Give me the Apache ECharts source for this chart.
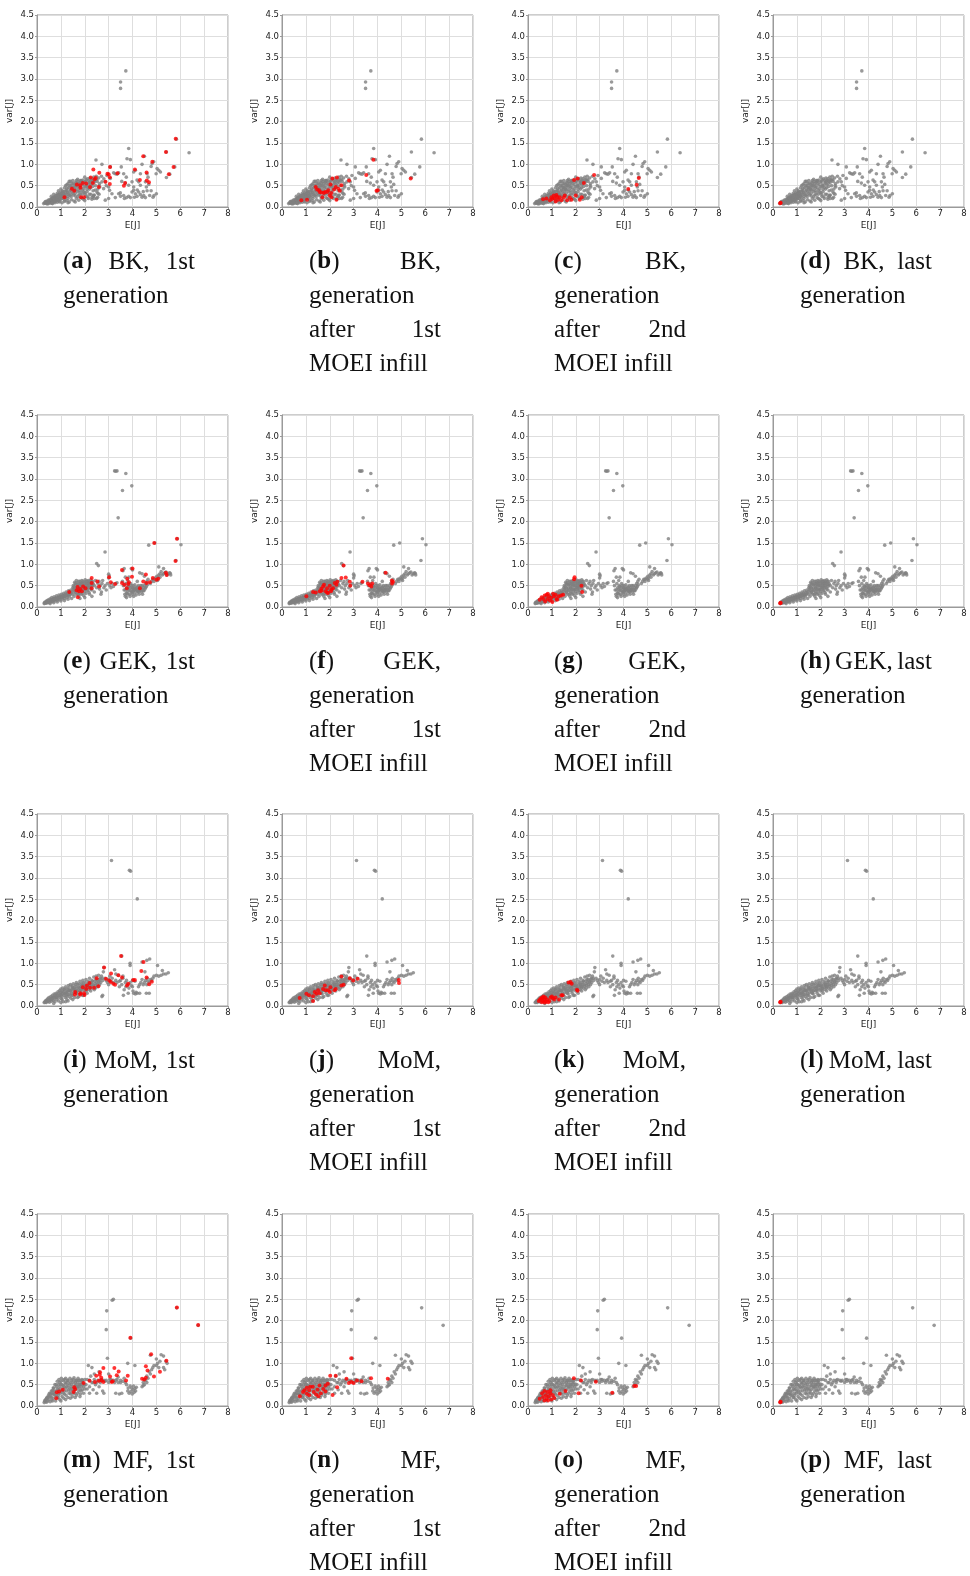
<!DOCTYPE html>
<html><head><meta charset="utf-8">
<script src="https://cdn.jsdelivr.net/npm/echarts@6/dist/echarts.min.js"></script>
<style>html,body{margin:0;padding:0;background:#fff}#c{width:970px;height:1576px}</style>
</head><body><div id="c"></div>
<script>
// ---------- tick labels ----------
const xTicks = [0,1,2,3,4,5,6,7,8];
const yTicks = [0,0.5,1,1.5,2,2.5,3,3.5,4,4.5];
const methods = ['BK','GEK','MoM','MF'];
const letters = [['a','b','c','d'],['e','f','g','h'],['i','j','k','l'],['m','n','o','p']];

// ---------- all evaluated points (grey), one set per method ----------
const greyBK = [[0.28,0.08],[0.32,0.1],[0.35,0.09],[0.38,0.12],[0.4,0.08],[0.42,0.14],[0.45,0.1],[0.48,0.16],[0.5,0.09],[0.52,0.12],[0.55,0.18],[0.58,0.1],[0.6,0.14],[0.62,0.2],[0.65,0.08],[0.68,0.16],[0.7,0.12],[0.72,0.24],[0.75,0.1],[0.78,0.19],[0.8,0.14],[0.82,0.27],[0.85,0.11],[0.88,0.22],[0.9,0.16],[0.92,0.3],[0.95,0.12],[0.98,0.25],[1.0,0.18],[1.02,0.32],[1.05,0.1],[1.08,0.28],[1.1,0.2],[1.12,0.36],[1.15,0.13],[1.18,0.3],[1.2,0.22],[1.22,0.4],[1.25,0.15],[1.28,0.34],[1.3,0.25],[1.32,0.45],[1.35,0.12],[1.38,0.38],[1.4,0.28],[1.42,0.5],[1.45,0.17],[1.48,0.42],[1.5,0.32],[1.52,0.55],[1.55,0.14],[1.58,0.46],[1.6,0.26],[1.62,0.58],[1.65,0.2],[1.68,0.5],[1.7,0.36],[1.72,0.6],[1.75,0.16],[1.78,0.44],[1.8,0.3],[1.82,0.62],[1.85,0.22],[1.88,0.55],[1.9,0.4],[1.92,0.63],[1.95,0.18],[1.98,0.48],[2.0,0.34],[2.02,0.6],[2.05,0.25],[2.08,0.52],[2.1,0.42],[2.12,0.66],[2.15,0.2],[2.18,0.58],[2.2,0.3],[2.22,0.68],[2.25,0.45],[2.28,0.62],[2.3,0.22],[2.32,0.55],[2.35,0.38],[2.38,0.7],[2.4,0.28],[2.42,0.64],[2.45,0.5],[2.48,0.72],[2.5,0.2],[2.52,0.6],[2.55,0.42],[2.58,0.68],[2.6,0.3],[2.62,0.55],[0.6,0.25],[0.7,0.3],[0.9,0.38],[1.0,0.42],[1.1,0.28],[1.2,0.5],[1.3,0.55],[1.4,0.6],[1.5,0.62],[1.6,0.4],[1.7,0.65],[1.8,0.5],[1.9,0.3],[2.0,0.7],[1.15,0.45],[1.25,0.52],[1.35,0.6],[1.45,0.35],[1.55,0.38],[1.65,0.62],[1.75,0.55],[1.85,0.45],[2.1,0.5],[2.2,0.55],[1.05,0.35],[0.95,0.3],[0.85,0.32],[0.75,0.22],[0.65,0.18],[0.55,0.13],[0.45,0.07],[1.3,0.1],[1.6,0.12],[2.0,0.15],[2.3,0.18],[2.4,0.2],[0.35,0.13],[0.42,0.1],[0.5,0.13],[0.55,0.1],[0.58,0.16],[0.63,0.12],[0.66,0.22],[0.7,0.19],[0.73,0.15],[0.77,0.26],[0.8,0.2],[0.83,0.17],[0.87,0.28],[0.9,0.22],[0.93,0.14],[0.96,0.33],[1.0,0.26],[1.03,0.2],[1.06,0.38],[1.1,0.32],[1.13,0.24],[1.16,0.16],[1.2,0.36],[1.23,0.29],[1.26,0.44],[1.3,0.2],[1.33,0.32],[1.36,0.5],[1.4,0.4],[1.43,0.24],[1.46,0.55],[1.5,0.46],[1.53,0.28],[1.56,0.52],[1.6,0.32],[1.63,0.5],[1.66,0.42],[1.7,0.24],[1.73,0.48],[1.76,0.38],[1.8,0.58],[1.83,0.35],[1.86,0.6],[1.9,0.2],[1.93,0.52],[1.96,0.42],[2.0,0.58],[2.03,0.3],[2.06,0.64],[2.1,0.36],[2.13,0.24],[2.16,0.62],[2.2,0.42],[2.23,0.6],[2.26,0.3],[2.3,0.66],[2.33,0.48],[2.36,0.25],[2.4,0.58],[2.44,0.4],[2.5,0.64],[2.55,0.32],[2.6,0.5],[1.25,0.38],[1.45,0.46],[1.15,0.25],[0.95,0.2],[1.35,0.28],[1.55,0.42],[1.75,0.28],[1.95,0.35],[2.15,0.46],[2.35,0.6],[1.65,0.55],[1.85,0.62],[2.05,0.48],[2.25,0.52],[1.05,0.24],[0.85,0.18],[0.75,0.14],[0.62,0.09],[0.48,0.11],[2.47,1.1],[2.72,1.0],[3.07,0.94],[3.53,0.94],[3.84,1.37],[3.77,1.13],[3.91,1.11],[4.5,1.19],[4.89,1.06],[4.82,1.02],[5.42,1.29],[5.84,1.59],[6.37,1.27],[5.77,0.94],[5.56,0.77],[5.42,0.69],[5.03,0.9],[5.1,0.86],[5.17,0.82],[4.99,0.78],[4.12,0.86],[4.05,0.82],[4.4,1.0],[4.78,0.95],[4.61,0.78],[4.33,0.78],[4.65,0.7],[4.54,0.59],[4.68,0.53],[4.58,0.47],[4.26,0.59],[4.33,0.51],[4.19,0.63],[3.98,0.59],[4.05,0.47],[3.84,0.51],[3.74,0.7],[3.7,0.56],[3.21,0.8],[3.28,0.78],[3.42,0.8],[3.63,0.78],[3.07,0.67],[2.93,0.74],[2.86,0.59],[3.0,0.47],[3.04,0.39],[3.14,0.31],[3.0,0.2],[3.28,0.22],[3.42,0.31],[3.49,0.33],[3.66,0.2],[3.84,0.25],[3.98,0.35],[4.05,0.39],[4.12,0.31],[4.19,0.25],[4.26,0.35],[4.33,0.29],[4.4,0.23],[4.47,0.27],[4.54,0.22],[4.61,0.38],[4.72,0.27],[4.78,0.38],[4.86,0.23],[5.0,0.31],[4.08,0.23],[3.91,0.22],[3.63,0.27],[2.72,0.59],[2.63,0.47],[2.79,0.43],[2.54,0.23],[2.86,0.16],[2.51,0.35],[2.37,0.27],[2.44,0.63],[2.7,0.72],[2.8,0.66],[2.9,0.5],[3.35,0.77],[3.55,0.6],[3.5,0.25],[3.75,0.22],[4.2,0.4],[4.45,0.36],[4.9,0.27],[3.5,2.93],[3.5,2.78],[3.72,3.19]];

const greyGEK = [[0.3,0.08],[0.32,0.11],[0.35,0.1],[0.38,0.13],[0.4,0.09],[0.42,0.15],[0.45,0.12],[0.48,0.17],[0.5,0.1],[0.52,0.14],[0.55,0.19],[0.58,0.12],[0.6,0.17],[0.62,0.22],[0.65,0.13],[0.68,0.19],[0.7,0.16],[0.72,0.24],[0.75,0.14],[0.78,0.21],[0.8,0.18],[0.82,0.26],[0.85,0.16],[0.88,0.23],[0.9,0.2],[0.92,0.28],[0.95,0.17],[0.98,0.25],[1.0,0.22],[1.02,0.3],[1.05,0.19],[1.08,0.27],[1.1,0.24],[1.12,0.32],[1.15,0.2],[1.18,0.3],[1.2,0.26],[1.22,0.35],[1.25,0.22],[1.28,0.32],[1.3,0.28],[1.32,0.38],[1.35,0.24],[1.38,0.34],[1.4,0.3],[1.42,0.4],[0.55,0.08],[0.7,0.1],[0.85,0.12],[1.0,0.14],[1.15,0.15],[1.3,0.18],[1.45,0.2],[1.5,0.45],[1.5,0.3],[1.52,0.5],[1.55,0.38],[1.58,0.58],[1.6,0.34],[1.62,0.45],[1.65,0.62],[1.68,0.4],[1.7,0.52],[1.72,0.3],[1.75,0.6],[1.78,0.44],[1.8,0.36],[1.82,0.55],[1.85,0.48],[1.88,0.62],[1.9,0.32],[1.92,0.5],[1.95,0.42],[1.98,0.58],[2.0,0.36],[2.02,0.64],[2.05,0.46],[2.08,0.54],[2.1,0.4],[2.12,0.6],[2.15,0.5],[2.18,0.34],[2.2,0.58],[2.22,0.45],[2.25,0.64],[2.28,0.52],[2.3,0.4],[2.32,0.6],[2.35,0.55],[1.55,0.25],[1.65,0.3],[1.75,0.25],[1.85,0.3],[1.95,0.27],[2.05,0.32],[2.2,0.3],[1.6,0.55],[1.7,0.45],[1.8,0.6],[1.9,0.55],[2.0,0.5],[2.1,0.55],[2.15,0.62],[1.8,0.2],[2.0,0.22],[0.33,0.09],[0.37,0.11],[0.43,0.12],[0.47,0.14],[0.53,0.12],[0.57,0.16],[0.63,0.15],[0.67,0.18],[0.73,0.17],[0.77,0.2],[0.83,0.19],[0.87,0.21],[0.93,0.22],[0.97,0.23],[1.03,0.24],[1.07,0.22],[1.13,0.27],[1.17,0.25],[1.23,0.29],[1.27,0.27],[1.33,0.3],[1.37,0.28],[1.43,0.33],[1.47,0.36],[1.52,0.42],[1.56,0.48],[1.6,0.42],[1.63,0.52],[1.67,0.56],[1.7,0.38],[1.73,0.54],[1.77,0.5],[1.8,0.44],[1.83,0.4],[1.87,0.56],[1.9,0.42],[1.93,0.6],[1.97,0.5],[2.0,0.42],[2.03,0.56],[2.07,0.6],[2.1,0.48],[2.13,0.38],[2.17,0.55],[2.2,0.5],[2.23,0.56],[2.27,0.6],[2.3,0.48],[2.33,0.52],[1.62,0.35],[1.78,0.32],[1.92,0.38],[2.08,0.44],[2.25,0.42],[1.85,0.52],[2.15,0.45],[2.4,0.5],[2.45,0.62],[2.5,0.45],[2.55,0.55],[2.6,0.6],[2.62,0.42],[2.65,0.5],[2.7,0.35],[2.72,0.55],[2.75,0.62],[2.8,0.45],[2.85,0.5],[2.9,0.4],[2.95,0.55],[3.0,0.68],[3.02,0.73],[3.0,0.77],[3.05,0.5],[3.1,0.45],[3.15,0.55],[3.2,0.48],[3.3,0.55],[3.35,0.57],[2.5,1.02],[2.57,0.97],[2.85,1.29],[2.68,0.3],[2.3,0.25],[2.4,0.35],[3.6,0.85],[3.65,0.9],[3.58,0.6],[3.62,0.5],[3.65,0.4],[3.68,0.3],[3.7,0.25],[3.72,0.55],[3.75,0.45],[3.78,0.35],[3.8,0.62],[3.82,0.5],[3.85,0.4],[3.88,0.3],[3.9,0.45],[3.92,0.55],[3.95,0.9],[4.0,0.87],[3.95,0.35],[3.98,0.42],[4.0,0.3],[4.02,0.5],[4.05,0.38],[4.08,0.45],[4.1,0.33],[4.12,0.42],[4.15,0.28],[4.18,0.4],[4.2,0.47],[4.22,0.35],[4.25,0.42],[4.28,0.3],[4.3,0.45],[4.32,0.38],[4.35,0.5],[4.38,0.35],[4.4,0.42],[4.42,0.3],[4.45,0.45],[4.48,0.38],[4.5,0.5],[4.52,0.42],[4.55,0.55],[4.58,0.48],[4.6,0.6],[4.62,0.52],[4.65,0.65],[4.3,0.8],[4.4,0.78],[4.5,0.72],[4.2,0.6],[3.7,0.7],[3.85,0.7],[3.75,0.22],[3.9,0.25],[4.05,0.25],[3.8,0.3],[3.7,0.4],[3.8,0.42],[3.9,0.38],[4.0,0.45],[4.05,0.42],[4.1,0.4],[4.15,0.45],[4.2,0.38],[4.25,0.35],[4.3,0.4],[4.35,0.42],[4.45,0.38],[3.85,0.48],[3.95,0.5],[4.1,0.52],[4.0,0.35],[3.75,0.32],[4.4,0.5],[4.55,0.45],[4.25,0.5],[4.75,0.55],[4.8,0.6],[4.85,0.65],[4.9,0.6],[4.95,0.68],[5.0,0.65],[5.02,0.72],[5.05,0.62],[5.1,0.75],[5.1,0.94],[5.15,0.7],[5.2,0.83],[5.25,0.75],[5.3,0.9],[5.35,0.8],[5.4,0.82],[5.45,0.75],[5.5,0.78],[5.55,0.8],[5.58,0.79],[5.6,0.75],[5.05,0.68],[5.15,0.78],[4.9,0.65],[5.3,0.78],[4.68,1.45],[4.93,1.5],[5.88,1.6],[6.03,1.46],[5.82,1.09],[3.25,3.19],[3.3,3.18],[3.35,3.19],[3.72,3.13],[3.58,2.73],[3.97,2.84],[3.4,2.09]];

const greyMoM = [[0.3,0.08],[0.33,0.1],[0.36,0.12],[0.38,0.08],[0.4,0.14],[0.43,0.1],[0.45,0.17],[0.48,0.12],[0.5,0.2],[0.52,0.09],[0.55,0.15],[0.58,0.22],[0.6,0.11],[0.62,0.18],[0.65,0.25],[0.68,0.13],[0.7,0.2],[0.72,0.28],[0.75,0.1],[0.78,0.22],[0.8,0.3],[0.82,0.15],[0.85,0.25],[0.88,0.33],[0.9,0.12],[0.92,0.2],[0.95,0.36],[0.98,0.28],[1.0,0.4],[1.02,0.17],[1.05,0.3],[1.08,0.42],[1.1,0.1],[1.12,0.25],[1.15,0.38],[1.18,0.2],[1.2,0.45],[1.22,0.32],[1.25,0.15],[1.28,0.4],[1.3,0.27],[1.32,0.48],[1.35,0.22],[1.38,0.36],[1.4,0.5],[1.42,0.18],[1.45,0.3],[1.48,0.44],[1.5,0.25],[1.52,0.52],[1.55,0.38],[1.58,0.2],[1.6,0.46],[1.62,0.32],[1.65,0.55],[1.68,0.28],[1.7,0.42],[1.72,0.5],[1.75,0.22],[1.78,0.36],[1.8,0.58],[1.82,0.45],[1.85,0.3],[1.88,0.52],[1.9,0.4],[1.92,0.6],[1.95,0.25],[1.98,0.48],[2.0,0.35],[2.02,0.55],[2.05,0.62],[2.08,0.42],[2.1,0.3],[2.12,0.5],[2.15,0.58],[2.18,0.38],[2.2,0.65],[2.22,0.46],[2.25,0.35],[2.28,0.55],[2.3,0.6],[2.32,0.42],[2.35,0.5],[2.38,0.68],[2.4,0.38],[2.42,0.58],[2.45,0.48],[2.48,0.7],[2.5,0.55],[2.52,0.62],[2.55,0.45],[2.58,0.72],[2.6,0.58],[2.62,0.5],[2.65,0.65],[2.7,0.7],[2.75,0.6],[2.8,0.9],[2.78,0.8],[2.72,0.22],[2.75,0.25],[1.3,0.12],[1.5,0.15],[0.7,0.06],[1.0,0.08],[1.2,0.1],[1.7,0.2],[1.9,0.25],[0.6,0.16],[0.8,0.2],[1.0,0.25],[1.2,0.3],[1.4,0.35],[1.6,0.38],[1.8,0.42],[2.0,0.45],[2.2,0.5],[1.1,0.33],[1.3,0.35],[1.5,0.4],[1.7,0.35],[1.9,0.48],[0.35,0.09],[0.42,0.12],[0.47,0.15],[0.53,0.13],[0.57,0.18],[0.63,0.15],[0.67,0.21],[0.73,0.18],[0.77,0.25],[0.83,0.2],[0.87,0.28],[0.93,0.24],[0.97,0.32],[1.03,0.22],[1.07,0.35],[1.13,0.28],[1.17,0.4],[1.23,0.26],[1.27,0.34],[1.33,0.42],[1.37,0.28],[1.43,0.38],[1.47,0.46],[1.53,0.32],[1.57,0.42],[1.63,0.5],[1.67,0.36],[1.73,0.44],[1.77,0.52],[1.83,0.38],[1.87,0.46],[1.93,0.54],[1.97,0.4],[2.03,0.48],[2.07,0.36],[2.13,0.44],[2.17,0.54],[2.23,0.42],[2.27,0.5],[2.33,0.58],[2.37,0.46],[2.43,0.52],[2.47,0.62],[2.53,0.5],[2.57,0.56],[2.63,0.62],[2.67,0.55],[2.73,0.65],[1.05,0.15],[1.25,0.22],[1.45,0.25],[1.65,0.3],[1.85,0.35],[2.05,0.4],[2.25,0.45],[2.45,0.42],[2.85,0.65],[2.9,0.6],[2.95,0.55],[3.0,0.62],[3.05,0.7],[3.1,0.58],[3.15,0.65],[3.2,0.55],[3.25,0.85],[3.3,0.6],[3.35,0.55],[3.4,0.72],[3.45,0.58],[3.5,0.6],[3.55,1.17],[3.55,0.5],[3.6,0.65],[3.62,0.25],[3.65,0.38],[3.7,0.55],[3.72,0.45],[3.75,0.6],[3.8,0.5],[3.82,0.3],[3.85,0.42],[3.9,1.0],[3.9,0.95],[3.9,0.55],[3.95,0.48],[4.0,0.6],[4.02,0.35],[4.05,0.3],[4.1,0.58],[4.12,0.28],[4.15,0.32],[4.2,0.3],[4.25,0.45],[4.3,0.3],[4.35,0.55],[4.4,1.03],[4.4,0.62],[4.45,0.5],[4.5,0.55],[4.52,0.8],[4.55,0.6],[4.58,0.3],[4.6,1.07],[4.6,0.5],[4.62,0.65],[4.65,0.58],[4.7,0.55],[4.72,1.1],[4.75,0.62],[4.8,0.6],[4.85,0.65],[4.9,0.7],[5.0,0.72],[5.05,0.95],[5.1,0.7],[5.2,0.72],[5.25,0.83],[5.3,0.75],[5.4,0.75],[5.5,0.78],[4.0,0.45],[3.6,0.7],[3.3,0.75],[3.0,0.5],[3.45,0.45],[4.3,0.5],[4.7,0.3],[3.12,3.41],[3.87,3.18],[3.92,3.16],[4.2,2.51]];

const greyMF = [[0.3,0.08],[0.32,0.12],[0.35,0.1],[0.38,0.15],[0.4,0.09],[0.42,0.2],[0.45,0.12],[0.48,0.25],[0.5,0.15],[0.52,0.3],[0.55,0.1],[0.58,0.22],[0.6,0.35],[0.62,0.14],[0.65,0.28],[0.68,0.42],[0.7,0.18],[0.72,0.35],[0.75,0.5],[0.78,0.12],[0.8,0.25],[0.82,0.45],[0.85,0.58],[0.88,0.2],[0.9,0.38],[0.92,0.62],[0.95,0.15],[0.98,0.3],[1.0,0.5],[1.02,0.65],[1.05,0.22],[1.08,0.42],[1.1,0.6],[1.12,0.18],[1.15,0.35],[1.18,0.55],[1.2,0.65],[1.22,0.25],[1.25,0.45],[1.28,0.6],[1.3,0.2],[1.32,0.38],[1.35,0.52],[1.38,0.65],[1.4,0.28],[1.42,0.45],[1.45,0.6],[1.48,0.22],[1.5,0.4],[1.52,0.55],[1.55,0.66],[1.58,0.3],[1.6,0.48],[1.62,0.6],[1.65,0.25],[1.68,0.42],[1.7,0.55],[1.72,0.65],[1.75,0.35],[1.78,0.5],[1.8,0.6],[1.82,0.28],[1.85,0.45],[1.88,0.62],[1.9,0.38],[1.92,0.55],[1.95,0.3],[1.98,0.5],[2.0,0.62],[0.6,0.2],[0.7,0.28],[0.8,0.35],[0.9,0.25],[1.0,0.35],[1.1,0.3],[1.2,0.42],[1.3,0.48],[1.4,0.55],[1.5,0.3],[1.6,0.38],[1.7,0.45],[1.8,0.4],[1.9,0.5],[0.9,0.5],[1.0,0.12],[1.2,0.15],[1.4,0.18],[1.6,0.2],[1.8,0.22],[1.15,0.62],[0.95,0.55],[0.35,0.14],[0.4,0.18],[0.45,0.2],[0.5,0.22],[0.55,0.28],[0.6,0.3],[0.65,0.36],[0.7,0.42],[0.75,0.3],[0.8,0.5],[0.85,0.4],[0.9,0.3],[0.95,0.45],[1.0,0.58],[1.05,0.35],[1.1,0.48],[1.15,0.28],[1.2,0.52],[1.25,0.35],[1.3,0.6],[1.35,0.42],[1.4,0.35],[1.45,0.5],[1.5,0.62],[1.55,0.45],[1.6,0.55],[1.65,0.5],[1.7,0.3],[1.75,0.6],[1.8,0.5],[1.85,0.35],[1.9,0.6],[1.95,0.45],[2.0,0.4],[0.85,0.2],[0.65,0.12],[1.05,0.5],[1.25,0.55],[1.45,0.4],[1.65,0.6],[1.85,0.55],[1.35,0.3],[1.55,0.35],[1.75,0.45],[1.15,0.45],[0.95,0.4],[0.75,0.25],[2.1,0.4],[2.2,0.6],[2.35,0.55],[2.5,0.55],[2.65,0.6],[2.8,0.6],[3.1,0.62],[3.3,0.6],[3.5,0.55],[2.05,0.5],[2.1,0.62],[2.15,0.95],[2.2,0.45],[2.25,0.7],[2.3,0.9],[2.3,0.55],[2.35,0.38],[2.4,0.62],[2.45,0.5],[2.5,0.3],[2.55,0.6],[2.6,0.45],[2.65,0.55],[2.7,0.62],[2.75,0.35],[2.8,0.3],[2.85,0.58],[2.9,0.6],[2.92,2.23],[2.9,1.79],[2.95,1.12],[3.0,0.55],[3.05,0.62],[3.1,0.58],[3.15,2.48],[3.2,2.5],[3.2,0.6],[3.25,0.55],[3.3,0.3],[3.35,0.62],[3.4,0.55],[3.45,0.28],[3.5,0.6],[3.55,0.3],[3.6,0.58],[3.65,0.65],[3.7,0.55],[3.75,0.5],[3.8,1.0],[3.8,0.35],[2.2,0.3],[2.4,0.75],[2.6,0.8],[3.0,0.75],[3.4,0.68],[3.82,0.42],[3.86,0.3],[3.9,0.47],[3.93,0.34],[3.96,0.42],[3.99,0.28],[4.02,0.38],[4.04,0.47],[4.07,0.32],[4.1,0.41],[4.13,0.35],[4.16,0.44],[3.92,1.59],[4.1,0.95],[4.4,0.45],[4.45,0.55],[4.5,0.5],[4.55,0.6],[4.6,0.7],[4.65,0.65],[4.7,0.8],[4.75,1.19],[4.75,0.75],[4.8,0.85],[4.85,0.9],[4.9,0.95],[5.0,1.1],[5.05,1.0],[5.1,0.9],[5.2,1.2],[5.3,1.17],[5.3,0.9],[5.35,0.85],[5.4,1.05],[5.45,1.0],[4.45,0.48],[4.6,0.55],[4.5,0.62],[5.0,0.95],[5.15,1.05],[5.85,2.3],[6.75,1.89]];

// ---------- current generation (red) ----------
const redA = [[5.81,1.6],[5.4,1.29],[4.45,1.19],[4.83,1.06],[5.72,0.94],[5.52,0.77],[4.1,0.88],[4.59,0.81],[4.31,0.63],[4.6,0.62],[4.69,0.58],[3.69,0.56],[3.64,0.5],[3.37,0.79],[3.06,0.94],[2.95,0.78],[3.0,0.77],[3.05,0.7],[3.05,0.54],[2.87,0.59],[2.61,0.8],[2.36,0.88],[2.46,0.68],[2.41,0.65],[2.25,0.69],[2.34,0.56],[2.59,0.47],[2.22,0.47],[2.06,0.55],[1.92,0.56],[1.81,0.51],[1.82,0.45],[1.67,0.53],[1.56,0.38],[1.46,0.43],[1.84,0.23],[1.97,0.23],[1.15,0.23]];
const redB = [[3.83,1.11],[3.53,0.75],[2.81,0.62],[4.01,0.39],[3.96,0.38],[5.39,0.67],[0.81,0.16],[1.05,0.17],[2.28,0.17],[1.69,0.23],[1.41,0.47],[1.47,0.41],[1.55,0.39],[1.65,0.34],[1.75,0.33],[1.8,0.35],[1.58,0.35],[1.94,0.39],[2.03,0.53],[2.07,0.33],[2.11,0.67],[2.18,0.41],[2.25,0.47],[2.3,0.69],[2.36,0.43],[2.42,0.38],[2.49,0.51],[2.0,0.27],[2.07,0.23],[1.9,0.35]];
const redC = [[2.77,0.75],[2.08,0.67],[1.93,0.63],[2.34,0.56],[4.2,0.42],[4.55,0.52],[4.64,0.68],[0.63,0.18],[0.77,0.2],[0.98,0.23],[1.08,0.27],[1.12,0.2],[1.19,0.28],[1.26,0.17],[1.33,0.23],[1.16,0.13],[1.4,0.16],[1.5,0.22],[1.64,0.16],[1.75,0.22],[1.82,0.17],[2.0,0.27],[2.17,0.17],[2.25,0.23],[0.92,0.16],[1.54,0.27],[1.22,0.24],[1.02,0.19]];
const redD = [[0.3,0.09],[0.32,0.1]];
const redE = [[5.86,1.6],[4.91,1.5],[5.8,1.08],[4.0,0.9],[3.56,0.87],[3.02,0.7],[2.29,0.68],[2.53,0.6],[3.09,0.58],[3.27,0.54],[3.56,0.56],[3.66,0.52],[3.78,0.66],[3.85,0.58],[3.82,0.54],[3.76,0.44],[3.98,0.71],[4.56,0.76],[4.45,0.6],[4.59,0.56],[4.73,0.58],[4.85,0.68],[5.0,0.64],[5.08,0.66],[5.4,0.8],[5.43,0.75],[4.31,0.44],[2.6,0.48],[2.29,0.56],[2.29,0.44],[2.03,0.44],[1.93,0.48],[1.81,0.42],[1.88,0.37],[1.7,0.47],[1.66,0.39],[1.75,0.37],[1.35,0.35],[1.71,0.23]];
const redF = [[2.58,0.97],[2.49,0.68],[2.67,0.69],[2.84,0.59],[2.86,0.5],[3.37,0.59],[3.6,0.55],[3.67,0.51],[3.78,0.55],[3.74,0.48],[4.34,0.8],[4.6,0.62],[4.65,0.59],[4.61,0.55],[1.02,0.25],[1.3,0.35],[1.41,0.34],[1.58,0.37],[1.65,0.43],[1.72,0.48],[1.76,0.52],[1.66,0.38],[1.83,0.37],[1.89,0.44],[1.93,0.33],[2.0,0.5],[2.07,0.41],[2.14,0.44],[2.21,0.56],[2.28,0.52],[2.32,0.59],[2.05,0.37],[1.89,0.34]];
const redG = [[1.95,0.7],[1.93,0.65],[2.24,0.5],[2.27,0.35],[0.49,0.17],[0.57,0.23],[0.7,0.27],[0.78,0.29],[0.72,0.13],[0.81,0.19],[0.88,0.25],[0.92,0.15],[0.97,0.21],[1.02,0.12],[1.08,0.25],[1.15,0.29],[1.2,0.19],[1.29,0.25],[1.39,0.27],[1.47,0.29],[1.22,0.17],[1.05,0.31],[0.83,0.31],[0.64,0.19]];
const redH = [[0.3,0.09],[0.32,0.1]];
const redI = [[3.52,1.17],[4.46,1.03],[2.81,0.9],[3.1,0.76],[3.41,0.72],[3.56,0.67],[4.37,0.82],[4.59,0.67],[4.81,0.57],[4.7,0.51],[4.03,0.61],[4.1,0.61],[3.77,0.48],[3.82,0.52],[2.89,0.64],[3.03,0.6],[3.09,0.56],[3.2,0.52],[3.27,0.5],[2.5,0.65],[2.57,0.46],[2.2,0.54],[2.22,0.43],[2.39,0.43],[2.06,0.4],[1.92,0.44],[1.97,0.3],[1.99,0.26],[1.81,0.3],[1.81,0.27],[1.6,0.33],[1.59,0.27],[2.09,0.48]];
const redJ = [[4.89,0.61],[4.9,0.54],[3.17,0.64],[2.84,0.65],[2.98,0.6],[2.49,0.69],[2.49,0.48],[2.58,0.5],[2.25,0.4],[2.03,0.44],[1.93,0.37],[1.79,0.48],[1.83,0.37],[1.72,0.4],[1.58,0.3],[1.44,0.29],[1.37,0.33],[1.3,0.23],[1.3,0.12],[1.13,0.25],[1.02,0.29],[0.74,0.19],[1.51,0.37],[2.0,0.33],[2.2,0.37]];
const redK = [[1.7,0.55],[1.78,0.56],[1.83,0.52],[2.05,0.38],[2.08,0.36],[1.4,0.25],[1.45,0.25],[1.3,0.15],[0.45,0.12],[0.5,0.15],[0.55,0.18],[0.6,0.2],[0.62,0.12],[0.68,0.16],[0.72,0.2],[0.75,0.1],[0.8,0.15],[0.85,0.09],[0.9,0.12],[0.95,0.2],[1.0,0.22],[1.05,0.18],[1.1,0.15],[0.58,0.09],[0.7,0.08],[1.15,0.2],[0.65,0.22]];
const redL = [[0.3,0.09],[0.32,0.1]];
const redM = [[5.86,2.31],[6.75,1.9],[3.91,1.6],[4.78,1.21],[5.42,1.06],[5.15,0.8],[4.9,0.69],[4.56,0.93],[4.63,0.83],[4.56,0.66],[4.4,0.64],[4.49,0.62],[2.78,0.89],[3.24,0.89],[3.42,0.81],[3.34,0.72],[3.06,0.69],[3.17,0.58],[3.13,0.56],[3.73,0.6],[3.8,0.71],[2.64,0.79],[2.63,0.73],[2.69,0.66],[2.71,0.6],[2.59,0.59],[2.48,0.71],[2.2,0.59],[2.43,0.56],[2.78,0.56],[1.95,0.54],[1.56,0.44],[1.6,0.39],[1.53,0.33],[1.08,0.38],[0.93,0.34],[0.83,0.32],[0.81,0.18]];
const redN = [[2.9,1.12],[2.02,0.71],[2.25,0.71],[2.31,0.44],[2.12,0.26],[2.7,0.64],[2.8,0.54],[2.9,0.56],[3.0,0.54],[3.14,0.6],[3.33,0.58],[3.73,0.65],[4.43,0.64],[0.75,0.23],[0.88,0.33],[0.94,0.37],[1.04,0.43],[1.14,0.37],[1.18,0.45],[1.29,0.45],[1.33,0.33],[1.14,0.25],[1.43,0.27],[1.49,0.38],[1.57,0.48],[1.63,0.3],[1.73,0.4],[1.82,0.48],[1.82,0.34],[1.53,0.23],[1.04,0.29],[1.92,0.52]];
const redO = [[1.92,0.65],[2.22,0.6],[2.84,0.57],[2.12,0.3],[3.53,0.31],[4.45,0.47],[4.53,0.47],[1.57,0.35],[1.33,0.29],[0.49,0.17],[0.59,0.3],[0.69,0.35],[0.75,0.25],[0.78,0.17],[0.82,0.33],[0.88,0.23],[0.94,0.3],[0.98,0.15],[1.04,0.25],[1.1,0.19],[0.63,0.21],[0.84,0.13],[0.69,0.13],[0.94,0.37]];
const redP = [[0.3,0.09],[0.32,0.1]];

const greyRows = [greyBK, greyGEK, greyMoM, greyMF];
const redSets = [[redA,redB,redC,redD],[redE,redF,redG,redH],[redI,redJ,redK,redL],[redM,redN,redO,redP]];
const captionTail = ['1st', 'after 1st', 'after 2nd', 'last'];

// ---------- layout ----------
const colLeft = [37, 282, 528, 773];
const rowTop = [15, 415, 814, 1214];
const PW = 191, PH = 192;
const capLeft = [63, 309, 554, 800];
const CAPW = 132;
const FS = 25;
const FF = '"Liberation Serif", "DejaVu Serif", serif';

const chart = echarts.init(document.getElementById('c'), null, {renderer: 'canvas'});
const grids = [], xAxes = [], yAxes = [], series = [], graphics = [];
const axisCol = '#9a9a9a';
const lblCol = '#1a1a1a';

for (let r = 0; r < 4; r++) {
  for (let c = 0; c < 4; c++) {
    const i = r * 4 + c;
    grids.push({left: colLeft[c], top: rowTop[r], width: PW, height: PH, show: true, borderColor: axisCol, borderWidth: 1, backgroundColor: '#fff'});
    xAxes.push({
      gridIndex: i, type: 'value', min: xTicks[0], max: xTicks[xTicks.length - 1], interval: xTicks[1] - xTicks[0],
      name: 'E[J]', nameLocation: 'middle', nameGap: 14,
      nameTextStyle: {fontSize: 9, color: lblCol, fontFamily: 'DejaVu Sans'},
      axisLine: {show: true, onZero: false, lineStyle: {color: axisCol}},
      axisTick: {show: true, length: 2, lineStyle: {color: axisCol}},
      axisLabel: {fontSize: 8.5, color: lblCol, margin: 2, fontFamily: 'DejaVu Sans'},
      splitLine: {show: true, lineStyle: {color: '#dedede', width: 1}}
    });
    yAxes.push({
      gridIndex: i, type: 'value', min: yTicks[0], max: yTicks[yTicks.length - 1], interval: yTicks[1] - yTicks[0],
      name: 'var[J]', nameLocation: 'middle', nameGap: 23,
      nameTextStyle: {fontSize: 9, color: lblCol, fontFamily: 'DejaVu Sans'},
      axisLine: {show: true, onZero: false, lineStyle: {color: axisCol}},
      axisTick: {show: true, length: 2, lineStyle: {color: axisCol}},
      axisLabel: {fontSize: 8.5, color: lblCol, margin: 3, fontFamily: 'DejaVu Sans', formatter: v => v.toFixed(1)},
      splitLine: {show: true, lineStyle: {color: '#dedede', width: 1}}
    });
    series.push({type: 'scatter', xAxisIndex: i, yAxisIndex: i, data: greyRows[r], symbolSize: 3.6, itemStyle: {color: '#7f7f7f'}, silent: true, z: 2});
    series.push({type: 'scatter', xAxisIndex: i, yAxisIndex: i, data: redSets[r][c], symbolSize: 4, itemStyle: {color: '#ff0000'}, silent: true, z: 3});
  }
}

// ---------- captions (justified text like the original) ----------
const mctx = document.createElement('canvas').getContext('2d');
function tw(t, bold) { mctx.font = (bold ? 'bold ' : '') + FS + 'px ' + FF; return mctx.measureText(t).width; }
function pushText(x, y, t, bold) {
  graphics.push({type: 'text', x: x, y: y, silent: true, style: {text: t, fill: '#111', font: (bold ? 'bold ' : '') + FS + 'px ' + FF, textAlign: 'left', textVerticalAlign: 'middle', align: 'left', verticalAlign: 'middle'}});
}
function wordWidth(w) { return w.letter ? tw('(') + tw(w.letter, true) + tw(')') : tw(w.t); }
function drawWord(x, y, w) {
  if (w.letter) {
    pushText(x, y, '(', false);
    pushText(x + tw('('), y, w.letter, true);
    pushText(x + tw('(') + tw(w.letter, true), y, ')', false);
  } else pushText(x, y, w.t, false);
}
for (let r = 0; r < 4; r++) {
  for (let c = 0; c < 4; c++) {
    const lab = {letter: letters[r][c]};
    const name = {t: methods[r] + ','};
    let lines;
    if (c === 0 || c === 3) {
      lines = [[lab, name, {t: captionTail[c]}], [{t: 'generation'}]];
    } else {
      const parts = captionTail[c].split(' ');
      lines = [[lab, name], [{t: 'generation'}], [{t: parts[0]}, {t: parts[1]}], [{t: 'MOEI infill'}]];
    }
    const y0 = rowTop[r] + 247;
    lines.forEach((ln, li) => {
      const y = y0 + li * 34;
      const x0 = capLeft[c];
      const last = li === lines.length - 1;
      if (ln.length > 1 && !last) {
        const widths = ln.map(wordWidth);
        const tot = widths.reduce((a, b) => a + b, 0);
        const gap = (CAPW - tot) / (ln.length - 1);
        let x = x0;
        ln.forEach((w, k) => { drawWord(x, y, w); x += widths[k] + gap; });
      } else {
        let x = x0;
        ln.forEach((w, k) => { drawWord(x, y, w); x += wordWidth(w) + tw(' '); });
      }
    });
  }
}

chart.setOption({
  animation: false,
  backgroundColor: '#fff',
  grid: grids, xAxis: xAxes, yAxis: yAxes, series: series,
  graphic: graphics
});
</script>
</body></html>
